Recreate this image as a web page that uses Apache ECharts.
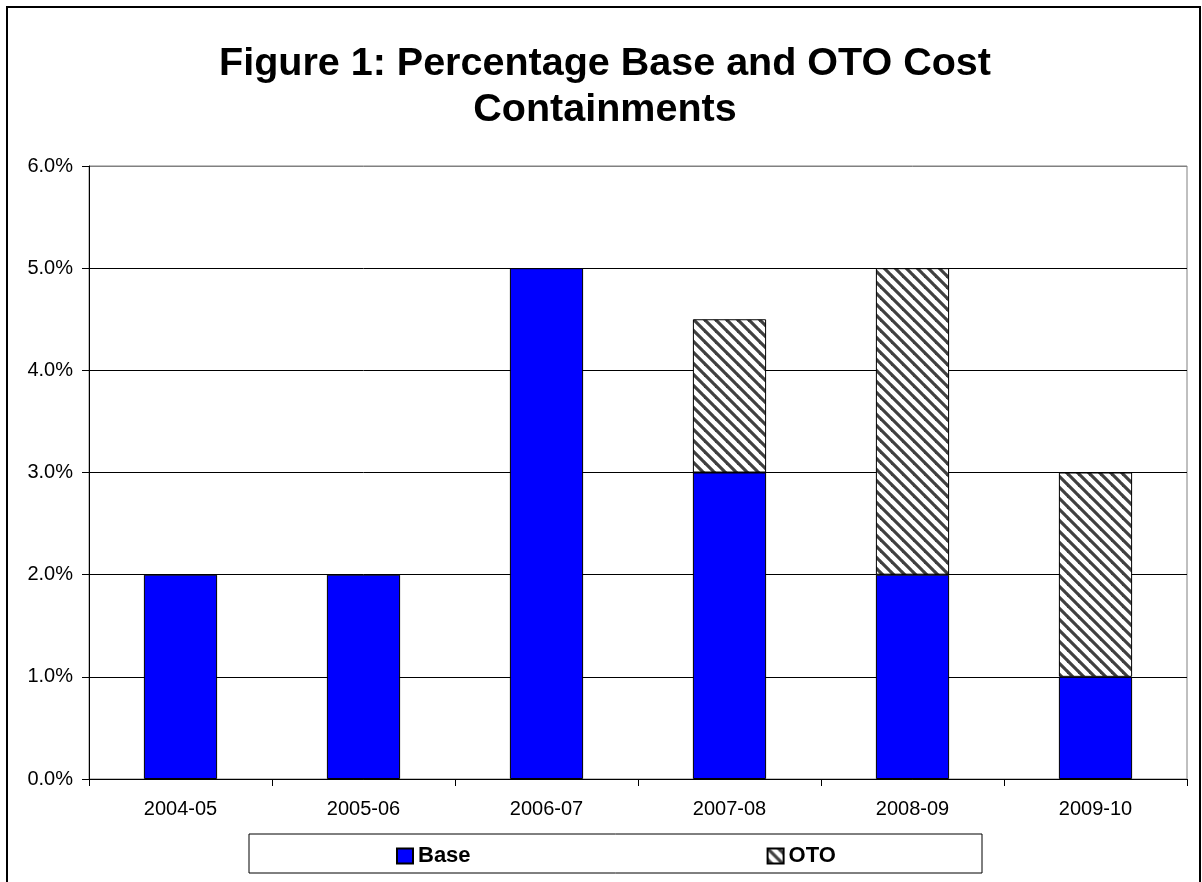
<!DOCTYPE html>
<html>
<head>
<meta charset="utf-8">
<script src="https://cdn.jsdelivr.net/npm/echarts@6/dist/echarts.min.js"></script>
<style>
html,body{margin:0;padding:0;background:#fff;}
#chart{width:1202px;height:882px;}
</style>
</head>
<body>
<div id="chart"></div>
<script>
const categories = ['2004-05','2005-06','2006-07','2007-08','2008-09','2009-10'];
const baseValues = [0.02, 0.02, 0.05, 0.03, 0.02, 0.01];
const otoValues = [null, null, null, 0.015, 0.03, 0.02];
const yTicks = { min: 0, max: 0.06, interval: 0.01 };

function hatch() {
  const s = 11;
  const c = document.createElement('canvas');
  c.width = s; c.height = s;
  const g = c.getContext('2d');
  g.fillStyle = '#ffffff';
  g.fillRect(0, 0, s, s);
  g.strokeStyle = '#404040';
  g.lineWidth = 3.2;
  [-s, 0, s].forEach(k => {
    g.beginPath();
    g.moveTo(k - 2, -2);
    g.lineTo(k + s + 2, s + 2);
    g.stroke();
  });
  return c;
}

const chart = echarts.init(document.getElementById('chart'));
const FONT = '"Liberation Sans", Arial, sans-serif';
chart.setOption({
  animation: false,
  backgroundColor: '#fff',
  textStyle: { fontFamily: FONT, color: '#000' },
  title: {
    text: 'Figure 1: Percentage Base and OTO Cost\nContainments',
    left: 600,
    top: 36,
    textAlign: 'center',
    textStyle: { fontFamily: FONT, fontSize: 39.5, fontWeight: 'bold', color: '#000', lineHeight: 46, align: 'center' }
  },
  graphic: [
    { type: 'rect', shape: { x: 7, y: 7, width: 1193, height: 900 }, style: { fill: 'none', stroke: '#000', lineWidth: 2 }, silent: true, z: -1 },
    { type: 'rect', shape: { x: 249, y: 834, width: 733, height: 39 }, style: { fill: '#fff', stroke: '#000', lineWidth: 1 }, silent: true, z: 0 }
  ],
  legend: {
    left: 391,
    top: 840,
    itemWidth: 16,
    itemHeight: 15,
    itemGap: 296,
    icon: 'rect',
    z: 10,
    textStyle: { fontFamily: FONT, fontSize: 22, fontWeight: 'bold', color: '#000' },
    data: ['Base', 'OTO']
  },
  grid: {
    left: 89, right: 15, top: 166, bottom: 103,
    show: true, borderColor: '#808080', borderWidth: 1, backgroundColor: 'transparent'
  },
  xAxis: {
    type: 'category',
    data: categories,
    boundaryGap: true,
    axisLine: { lineStyle: { color: '#000', width: 1 } },
    axisTick: { show: true, length: 7, alignWithLabel: false, lineStyle: { color: '#000' } },
    axisLabel: { fontSize: 20, color: '#000', margin: 20, fontFamily: FONT }
  },
  yAxis: {
    type: 'value',
    min: yTicks.min, max: yTicks.max, interval: yTicks.interval,
    axisLine: { show: true, lineStyle: { color: '#000', width: 1 } },
    axisTick: { show: true, length: 7, lineStyle: { color: '#000' } },
    axisLabel: { fontSize: 20, color: '#000', margin: 16, fontFamily: FONT,
      formatter: v => (v * 100).toFixed(1) + '%' },
    splitLine: { show: true, lineStyle: { color: ['#000','#000','#000','#000','#000','#000','#808080'], width: 1 } }
  },
  series: [
    {
      name: 'Base', type: 'bar', stack: 'total', data: baseValues, barWidth: '40%',
      itemStyle: { color: '#0000ff', borderColor: '#000', borderWidth: 1 }
    },
    {
      name: 'OTO', type: 'bar', stack: 'total', data: otoValues, barWidth: '40%',
      itemStyle: { color: { image: hatch(), repeat: 'repeat' }, borderColor: '#000', borderWidth: 1 }
    }
  ]
});
</script>
</body>
</html>
